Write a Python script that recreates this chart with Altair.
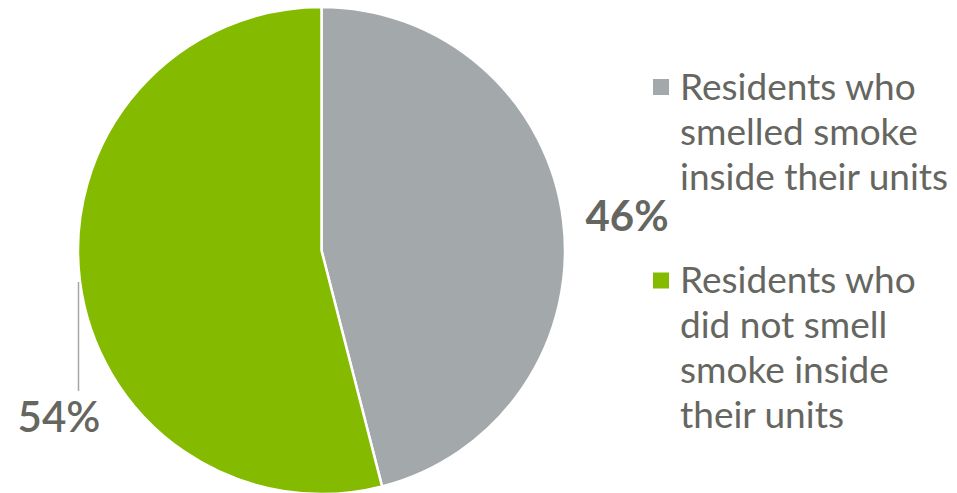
import altair as alt
import pandas as pd

categories = ["Residents who smelled smoke inside their units",
              "Residents who did not smell smoke inside their units"]
values = [46, 54]
pct_labels = ["46%", "54%"]
legend_lines = [["Residents who", "smelled smoke", "inside their units"],
                ["Residents who", "did not smell", "smoke inside", "their units"]]
colors = ["#a3a8ab", "#84bb00"]

df = pd.DataFrame({"category": categories, "value": values, "order": [0, 1]})

W, H = 941, 485
FONT = "Lato"
TXT = "#666661"

pie = alt.Chart(df).mark_arc(stroke="white", strokeWidth=2.5).encode(
    theta=alt.Theta("value:Q", stack=True),
    order=alt.Order("order:Q"),
    color=alt.Color("category:N", scale=alt.Scale(domain=categories, range=colors), legend=None),
    x=alt.value(313.5), y=alt.value(242.5), radius=alt.value(243.5),
)

lbl46 = alt.Chart(pd.DataFrame({"t": [pct_labels[0]]})).mark_text(
    font=FONT, fontSize=42, fontWeight="bold", color=TXT, align="center", baseline="middle"
).encode(text="t:N", x=alt.value(619), y=alt.value(210))

lbl54 = alt.Chart(pd.DataFrame({"t": [pct_labels[1]]})).mark_text(
    font=FONT, fontSize=42, fontWeight=600, color=TXT, align="center", baseline="middle"
).encode(text="t:N", x=alt.value(51), y=alt.value(411))

leader = alt.Chart(pd.DataFrame({"a": [0]})).mark_rule(color="#a5a5a5", strokeWidth=1.5).encode(
    x=alt.value(70.5), y=alt.value(274), y2=alt.value(383))

layers = [pie, lbl46, lbl54, leader]
sq_y = [79, 272.5]
txt_y = [92, 285]
for i in range(2):
    sq = alt.Chart(pd.DataFrame({"c": [categories[i]]})).mark_square(size=256, opacity=1).encode(
        x=alt.value(653), y=alt.value(sq_y[i]),
        color=alt.Color("c:N", scale=alt.Scale(domain=categories, range=colors), legend=None))
    tx = alt.Chart(pd.DataFrame({"t": [legend_lines[i]]})).mark_text(
        font=FONT, fontSize=37, color=TXT, align="left", baseline="alphabetic", lineHeight=45
    ).encode(text="t", x=alt.value(672), y=alt.value(txt_y[i]))
    layers += [sq, tx]

chart = alt.layer(*layers).properties(
    width=W, height=H, autosize=alt.AutoSizeParams(type="none"), padding=0
).configure_view(stroke=None)

chart.save("out.html", embed_options={"renderer": "svg", "actions": False})
